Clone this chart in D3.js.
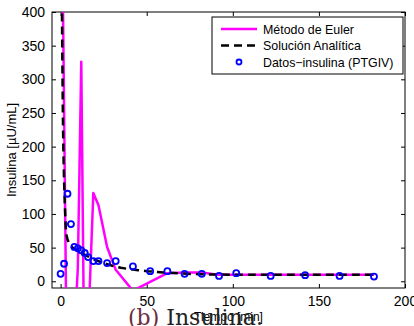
<!DOCTYPE html>
<html>
<head>
<meta charset="utf-8">
<script src="https://cdn.jsdelivr.net/npm/d3@7"></script>
<style>
  html, body { margin: 0; padding: 0; background: #fff; }
  svg { display: block; }
  text { font-family: "Liberation Sans", Arial, sans-serif; }
</style>
</head>
<body>
<svg id="chart" width="414" height="326"></svg>
<script>
// Insulin measurements (PTGIV)
const dataT = [0, 2, 4, 6, 8, 10, 12, 14, 16, 19, 22, 27, 32, 42, 52, 62, 72, 82, 92, 102, 122, 142, 162, 182];
const dataV = [11, 26, 130, 85, 51, 49, 46, 42, 36, 30, 30, 27, 30, 22, 15, 15, 11, 11, 8, 12, 8, 9, 8, 7];

// Euler's method solution
const eulerT = [0, 2, 4, 6, 8, 10, 12, 14, 16, 19, 22, 27, 32, 42, 52, 62, 72, 82, 92, 102, 122, 142, 162, 182];
const eulerV = [740, 260, -230, -150, -80, 20, 326, -190, -70, 131, 113, 51, 17, -14, -1, 12, 13, 13, 9.5, 9.5, 9.5, 9.5, 9.5, 9.5];

// Analytical solution
const anT = [0, 0.8, 1.0, 1.3, 1.6, 2.0, 2.5, 3.0, 3.5, 4, 5, 6, 8, 10, 12, 15, 20, 25, 30, 35, 40, 45, 50, 55, 60, 70, 80, 90, 100, 120, 140, 160, 182];
const anV = [900, 400, 330, 250, 195, 150, 110, 80, 68, 62, 56, 52, 48, 45, 42, 38, 32, 27, 23, 20, 18, 16.5, 15, 14, 13, 11.5, 10.5, 10, 9.7, 9.5, 9.5, 9.5, 9.5];

const xTicks = [0, 50, 100, 150, 200];
const yTicks = [0, 50, 100, 150, 200, 250, 300, 350, 400];

const legendLabels = ["Método de Euler", "Solución Analítica", "Datos\u2212insulina (PTGIV)"];

const svg = d3.select("#chart");
const pLeft = 52, pRight = 405, pTop = 12, pBottom = 288;

const x = d3.scaleLinear().domain([-5, 200]).range([pLeft, pRight]);
const y = d3.scaleLinear().domain([-10, 400]).range([pBottom, pTop]);

svg.append("defs").append("clipPath").attr("id", "plotClip")
  .append("rect").attr("x", pLeft).attr("y", pTop)
  .attr("width", pRight - pLeft).attr("height", pBottom - pTop);

// Axes with inward ticks on all four sides
const tickLen = 4;
const gx = svg.append("g").attr("transform", `translate(0,${pBottom})`)
  .call(d3.axisBottom(x).tickValues(xTicks).tickSizeInner(-tickLen).tickSizeOuter(0).tickPadding(8));
const gxTop = svg.append("g").attr("transform", `translate(0,${pTop})`)
  .call(d3.axisTop(x).tickValues(xTicks).tickSizeInner(-tickLen).tickSizeOuter(0).tickFormat(""));
const gy = svg.append("g").attr("transform", `translate(${pLeft},0)`)
  .call(d3.axisLeft(y).tickValues(yTicks).tickSizeInner(-tickLen).tickSizeOuter(0).tickPadding(7));
const gyRight = svg.append("g").attr("transform", `translate(${pRight},0)`)
  .call(d3.axisRight(y).tickValues(yTicks).tickSizeInner(-tickLen).tickSizeOuter(0).tickFormat(""));

[gx, gxTop, gy, gyRight].forEach(g => {
  g.select(".domain").remove();
  g.selectAll(".tick line").attr("stroke", "#000").attr("stroke-width", 1);
  g.selectAll(".tick text").attr("fill", "#000")
    .style("font-family", "'Liberation Sans', Arial, sans-serif").style("font-size", "14px");
});

// Frame
svg.append("rect").attr("x", pLeft).attr("y", pTop)
  .attr("width", pRight - pLeft).attr("height", pBottom - pTop)
  .attr("fill", "none").attr("stroke", "#000").attr("stroke-width", 1);

const plot = svg.append("g").attr("clip-path", "url(#plotClip)");
const line = d3.line().x(d => x(d[0])).y(d => y(d[1]));

plot.append("path")
  .datum(eulerT.map((t, i) => [t, eulerV[i]]))
  .attr("d", line).attr("fill", "none")
  .attr("stroke", "#ff00ff").attr("stroke-width", 2.5).attr("stroke-linejoin", "round");

plot.append("path")
  .datum(anT.map((t, i) => [t, anV[i]]))
  .attr("d", line).attr("fill", "none")
  .attr("stroke", "#000").attr("stroke-width", 2.5).attr("stroke-dasharray", "8,5");

plot.selectAll("circle.dato")
  .data(dataT.map((t, i) => [t, dataV[i]]))
  .join("circle").attr("class", "dato")
  .attr("cx", d => x(d[0])).attr("cy", d => y(d[1])).attr("r", 3)
  .attr("fill", "none").attr("stroke", "#0000ff").attr("stroke-width", 1.8);

// Legend
const lg = svg.append("g");
lg.append("rect").attr("x", 212).attr("y", 17).attr("width", 191).attr("height", 57)
  .attr("fill", "#fff").attr("stroke", "#000").attr("stroke-width", 1);
const rowY = [29, 45.5, 62];
lg.append("line").attr("x1", 221).attr("x2", 257).attr("y1", rowY[0]).attr("y2", rowY[0])
  .attr("stroke", "#ff00ff").attr("stroke-width", 2.5);
lg.append("line").attr("x1", 221).attr("x2", 257).attr("y1", rowY[1]).attr("y2", rowY[1])
  .attr("stroke", "#000").attr("stroke-width", 2.5).attr("stroke-dasharray", "8,5");
lg.append("circle").attr("cx", 239).attr("cy", rowY[2]).attr("r", 2.5)
  .attr("fill", "none").attr("stroke", "#0000ff").attr("stroke-width", 1.8);
legendLabels.forEach((s, i) => {
  lg.append("text").attr("x", 263).attr("y", rowY[i] + 4.5)
    .style("font-size", "12.4px").attr("fill", "#000").text(s);
});

// Axis titles
svg.append("text")
  .attr("transform", `translate(16,${(pTop + pBottom) / 2}) rotate(-90)`)
  .attr("text-anchor", "middle").style("font-size", "13px").attr("fill", "#000")
  .text("Insulina [µU/mL]");
svg.append("text").attr("x", (pLeft + pRight) / 2).attr("y", 321)
  .attr("text-anchor", "middle").style("font-size", "12px").attr("fill", "#000")
  .text("Tiempo [min]");

// Sub-figure caption
const cap = svg.append("text").attr("x", 128).attr("y", 325)
  .style("font-family", "'DejaVu Serif', 'Liberation Serif', serif").style("font-size", "22px");
cap.append("tspan").attr("fill", "#6b2d3e").text("(b)");
cap.append("tspan").attr("fill", "#222").text(" Insulina.");
</script>
</body>
</html>
